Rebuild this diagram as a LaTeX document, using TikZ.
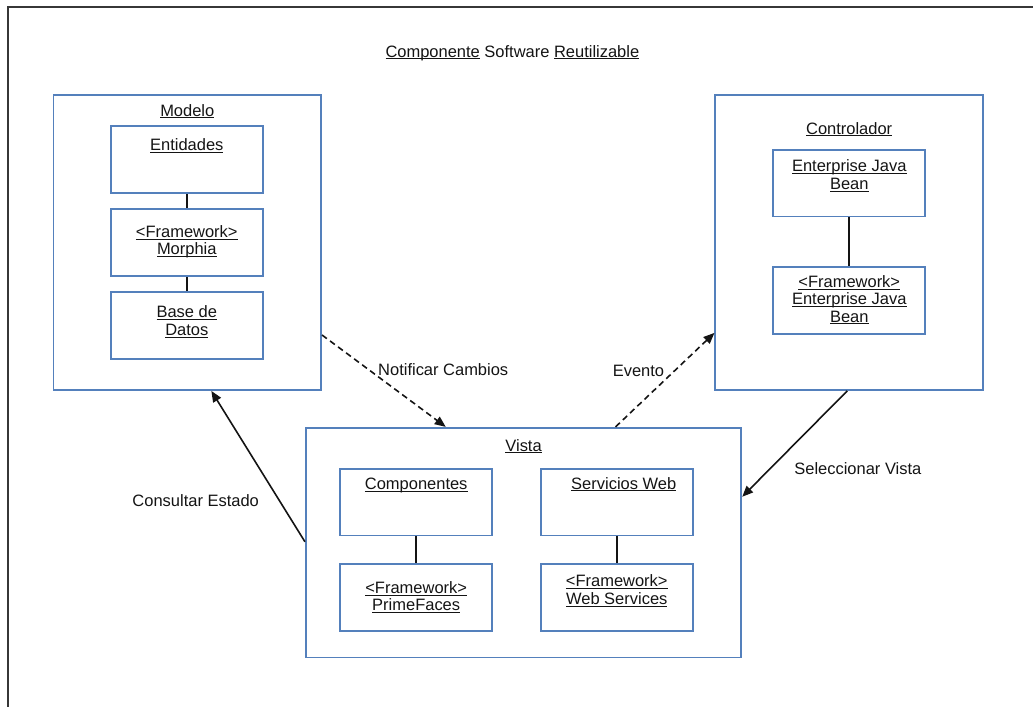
\documentclass[tikz,border=0pt]{standalone}
\usepackage{fontspec}
\setmainfont{Liberation Sans}
\usetikzlibrary{arrows.meta}
\definecolor{boxblue}{RGB}{84,128,188}
\definecolor{ink}{RGB}{20,20,20}
\newcommand\ulin[1]{\underline{\vphantom{E}\smash{#1}}}

\begin{document}
\begin{tikzpicture}[x=1pt, y=-1pt,
  >={Triangle[length=11pt, width=9pt]},
  every node/.style={font={\fontsize{16.5}{17.5}\selectfont}, text=ink},
  pkg/.style={draw=boxblue, line width=1.8pt, inner sep=0pt},
  part/.style={pkg, minimum width=152pt, minimum height=67pt},
  heading/.style={inner sep=0pt, align=center, anchor=north},
  tag/.style={inner sep=0pt},
  link/.style={draw=ink, line width=1.8pt},
  flow/.style={draw=ink, line width=1.6pt, ->},
  async/.style={flow, dash pattern=on 6pt off 4pt}]

  \newcommand\PW{268pt};
  \newcommand\PH{295pt};

  \path (0,0) (1034,708); %% positioning
  \draw[ink!85, line width=2.5pt] (1034,7) -- (8,7) -- (8,708);

  \node[heading] (title) at (513,45)
    {\ulin{Componente} Software \ulin{Reutilizable}};

  %% modelo
  \node[pkg, minimum width=\PW, minimum height=\PH,
    label={[heading, yshift=-10pt]north:\ulin{Modelo}}] (model) at (187.5,243) {};
  \node[part, label={[heading, yshift=-13.5pt]north:\ulin{Entidades}}]
    (ent) at (187,160) {};
  \node[part, label={[heading, yshift=-17.5pt]north:\ulin{<Framework>}\\\ulin{Morphia}}]
    (morph) at (187,243) {};
  \node[part, label={[heading, yshift=-15.5pt]north:\ulin{Base de}\\\ulin{Datos}}]
    (db) at (187,325.7) {};
  \draw[link] (ent) -- (morph);
  \draw[link] (morph) -- (db);

  %% controlador
  \node[pkg, minimum width=\PW, minimum height=\PH,
    label={[heading, yshift=-28.3pt]north:\ulin{Controlador}}] (ctrl) at (850.2,242.9) {};
  \node[part, label={[heading, yshift=-11.7pt]north:\ulin{Enterprise Java}\\\ulin{Bean}}]
    (ejb) at (850.3,183.3) {};
  \node[part, label={[heading, yshift=-10pt]north:\ulin{<Framework>}\\\ulin{Enterprise Java}\\\ulin{Bean}}]
    (fwejb) at (850.3,300.5) {};
  \draw[link] (ejb) -- (fwejb);

  %% vista
  \node[pkg, minimum width=436pt, minimum height=230pt,
    label={[heading, yshift=-12.7pt]north:\ulin{Vista}}] (vista) at (524.2,543.3) {};
  \node[part, label={[heading, yshift=-10.7pt]north:\ulin{Componentes}}]
    (comp) at (416.7,502.7) {};
  \node[part, label={[heading, yshift=-19pt]north:\ulin{<Framework>}\\\ulin{PrimeFaces}}]
    (pf) at (416.7,598) {};
  \node[part, label={[heading, yshift=-10pt, xshift=7pt]north:\ulin{Servicios Web}}]
    (ws) at (617.5,502.7) {};
  \node[part, label={[heading, yshift=-12.4pt]north:\ulin{<Framework>}\\\ulin{Web Services}}]
    (fws) at (617.5,598) {};
  \draw[link] (comp) -- (pf);
  \draw[link] (ws) -- (fws);

  \draw[async] ([yshift=56pt]model.south east) --
  node[tag, pos=.375, anchor=west, xshift=9pt]{Notificar Cambios}
  ([xshift=141pt]vista.north west);
  \draw[async] ([xshift=311pt]vista.north west) --
  node[tag, pos=.6, anchor=east, xshift=-10pt]{Evento}
  ([yshift=58pt]ctrl.south west);
  \draw[flow] ([yshift=-115pt]vista.north west) --
  node[tag, pos=.27, anchor=east, xshift=-20pt]{Consultar Estado}
  ([xshift=159pt]model.south west);
  \draw[flow] ([xshift=133pt]ctrl.south west) --
  node[tag, pos=.73, anchor=west, xshift=23pt]{Seleccionar Vista}
  ([yshift=-70pt]vista.north east);

\end{tikzpicture}
\end{document}
